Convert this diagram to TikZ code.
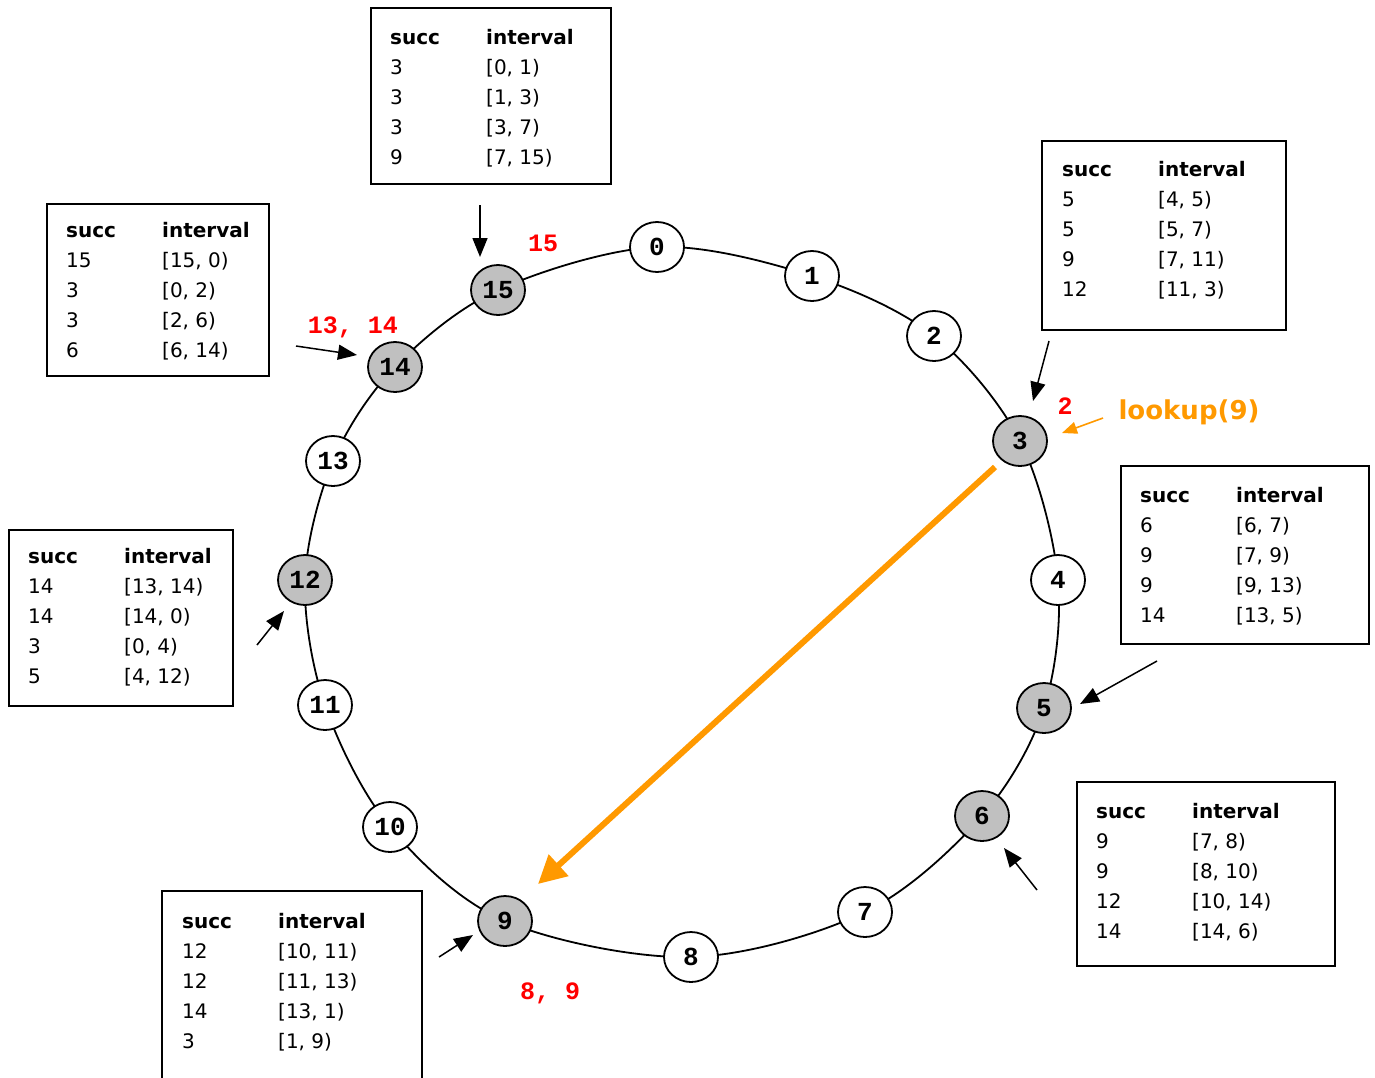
\documentclass[tikz,border=0pt]{standalone}
\usepackage{fontspec}
\setmainfont{DejaVu Sans}
\newfontfamily\monob{Liberation Mono}
\usetikzlibrary{shapes.geometric,arrows.meta}
\definecolor{peer}{HTML}{C0C0C0}
\definecolor{lookorange}{HTML}{FF9900}
\definecolor{hopred}{HTML}{FF0000}
\newcommand{\fingertable}[4]{% succ/interval rows
  \begin{tabular}[t]{@{}p{96pt}@{}l@{}}
  \textbf{succ} & \textbf{interval}\\
  #1\\ #2\\ #3\\ #4
  \end{tabular}}
\tikzset{
  ringnode/.style={ellipse, draw, line width=1.8pt, fill=white, inner sep=0pt,
    minimum width=54pt, minimum height=50pt,
    font=\fontsize{26}{26}\selectfont\monob\bfseries},
  peernode/.style={ringnode, fill=peer},
  tablebox/.style={draw, line width=1.6pt},
  tabtext/.style={inner sep=0pt, anchor=base west, font=\fontsize{20}{30}\selectfont},
  ptr/.style={line width=1.5pt, -{Triangle[length=19pt,width=15pt]}},
  hoplabel/.style={text=hopred, font=\fontsize{25}{25}\selectfont\monob\bfseries},
}
\begin{document}
\begin{tikzpicture}[x=1pt,y=-1pt]
\useasboundingbox (0,0) rectangle (1375,1077);

% positions of the sixteen identifiers on the ring
\coordinate (p0) at (657,247);
\coordinate (p1) at (812,276);
\coordinate (p2) at (934,336);
\coordinate (p3) at (1020,441);
\coordinate (p4) at (1058,580);
\coordinate (p5) at (1044,708);
\coordinate (p6) at (982,816);
\coordinate (p7) at (865,912);
\coordinate (p8) at (691,957);
\coordinate (p9) at (505,921);
\coordinate (p10) at (390,827);
\coordinate (p11) at (325,705);
\coordinate (p12) at (305,580);
\coordinate (p13) at (333,461);
\coordinate (p14) at (395,367);
\coordinate (p15) at (498,290);

% the identifier circle
\draw[line width=1.8pt] plot[smooth cycle, tension=0.55] coordinates
  {(p0) (p1) (p2) (p3) (p4) (p5) (p6) (p7) (p8) (p9) (p10) (p11) (p12) (p13) (p14) (p15)};

% identifiers: white = empty, grey = live node
\node[ringnode] (n0) at (p0) {0};
\node[ringnode] (n1) at (p1) {1};
\node[ringnode] (n2) at (p2) {2};
\node[peernode] (n3) at (p3) {3};
\node[ringnode] (n4) at (p4) {4};
\node[peernode] (n5) at (p5) {5};
\node[peernode] (n6) at (p6) {6};
\node[ringnode] (n7) at (p7) {7};
\node[ringnode] (n8) at (p8) {8};
\node[peernode] (n9) at (p9) {9};
\node[ringnode] (n10) at (p10) {10};
\node[ringnode] (n11) at (p11) {11};
\node[peernode] (n12) at (p12) {12};
\node[ringnode] (n13) at (p13) {13};
\node[peernode] (n14) at (p14) {14};
\node[peernode] (n15) at (p15) {15};

% finger tables
\node[tablebox, anchor=north west, minimum width=240pt, minimum height=176pt] (b15) at (370,7) {};
\node[tabtext] (f15) at (390,44) {\fingertable{3 & [0, 1)}{3 & [1, 3)}{3 & [3, 7)}{9 & [7, 15)}};

\node[tablebox, anchor=north west, minimum width=244pt, minimum height=189pt] (b3) at (1041,140) {};
\node[tabtext] (f3) at (1062,176) {\fingertable{5 & [4, 5)}{5 & [5, 7)}{9 & [7, 11)}{12 & [11, 3)}};

\node[tablebox, anchor=north west, minimum width=222pt, minimum height=172pt] (b14) at (46,203) {};
\node[tabtext] (f14) at (66,237) {\fingertable{15 & [15, 0)}{3 & [0, 2)}{3 & [2, 6)}{6 & [6, 14)}};

\node[tablebox, anchor=north west, minimum width=224pt, minimum height=176pt] (b12) at (8,529) {};
\node[tabtext] (f12) at (28,563) {\fingertable{14 & [13, 14)}{14 & [14, 0)}{3 & [0, 4)}{5 & [4, 12)}};

\node[tablebox, anchor=north west, minimum width=248pt, minimum height=178pt] (b5) at (1120,465) {};
\node[tabtext] (f5) at (1140,502) {\fingertable{6 & [6, 7)}{9 & [7, 9)}{9 & [9, 13)}{14 & [13, 5)}};

\node[tablebox, anchor=north west, minimum width=258pt, minimum height=184pt] (b6) at (1076,781) {};
\node[tabtext] (f6) at (1096,818) {\fingertable{9 & [7, 8)}{9 & [8, 10)}{12 & [10, 14)}{14 & [14, 6)}};

\coordinate (b9a) at (162,1080);
\coordinate (b9b) at (162,891);
\coordinate (b9c) at (422,891);
\coordinate (b9d) at (422,1080);
\draw[line width=1.6pt] (b9a) -- (b9b) -- (b9c) -- (b9d);
\node[tabtext] (f9) at (182,928) {\fingertable{12 & [10, 11)}{12 & [11, 13)}{14 & [13, 1)}{3 & [1, 9)}};

% pointers from each table to its node
\coordinate (s15) at (480,205);  \coordinate (e15) at (480,257);
\coordinate (s14) at (296,346);  \coordinate (e14) at (357,355);
\coordinate (s3)  at (1049,341); \coordinate (e3)  at (1033,401);
\coordinate (s12) at (257,645);  \coordinate (e12) at (284,611);
\coordinate (s5)  at (1157,661); \coordinate (e5)  at (1080,704);
\coordinate (s6)  at (1037,890); \coordinate (e6)  at (1004,848);
\coordinate (s9)  at (439,957);  \coordinate (e9)  at (473,935);
\draw[ptr] (s15) -- (e15);
\draw[ptr] (s14) -- (e14);
\draw[ptr] (s3) -- (e3);
\draw[ptr] (s12) -- (e12);
\draw[ptr] (s5) -- (e5);
\draw[ptr] (s6) -- (e6);
\draw[ptr] (s9) -- (e9);

% keys held by each node
\node[hoplabel] (k15) at (543,243) {15};
\node[hoplabel] (k14) at (353,327) {13, 14};
\node[hoplabel] (k3) at (1065,406) {2};
\node[hoplabel] (k9) at (550,993) {8, 9};

% the lookup request
\node[text=lookorange, font=\fontsize{26}{26}\selectfont\bfseries] (look) at (1189,412) {lookup(9)};
\coordinate (ls) at (1103,418);
\coordinate (le) at (1062,433);
\draw[lookorange, line width=1.6pt, -{Triangle[length=15pt,width=12pt]}] (ls) -- (le);
\coordinate (hs) at (995,467);
\coordinate (he) at (538,884);
\draw[lookorange, line width=6pt, -{Triangle[length=28pt,width=28pt]}] (hs) -- (he);
\end{tikzpicture}
\end{document}
